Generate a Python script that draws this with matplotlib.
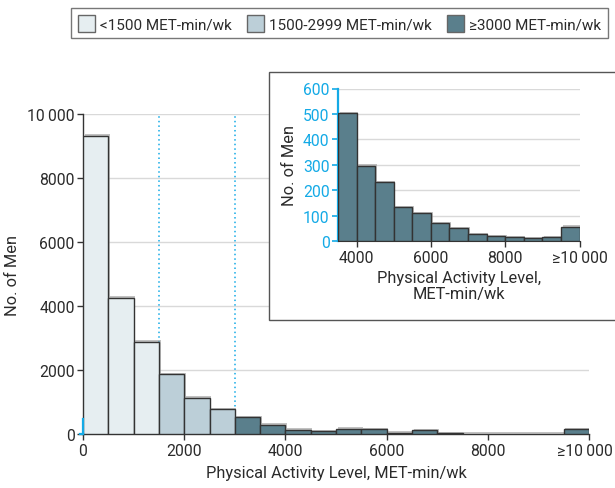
import matplotlib
matplotlib.use("Agg")
import matplotlib.pyplot as plt
import matplotlib.patches as mpatches
import matplotlib.patheffects as pe
import matplotlib.transforms as mtransforms
import numpy as np

plt.rcParams['font.family'] = ['Roboto', 'DejaVu Sans']

# ---- data ----
bin_edges_main = [0, 500, 1000, 1500, 2000, 2500, 3000, 3500, 4000, 4500, 5000,
                  5500, 6000, 6500, 7000, 7500, 8000, 8500, 9000, 9500, 10000]
counts_main = [9320, 4260, 2900, 1875, 1140, 785, 534, 290, 136, 94, 168,
               157, 52, 126, 31, 20, 20, 20, 5, 157]

bin_edges_inset = [3500, 4000, 4500, 5000, 5500, 6000, 6500, 7000, 7500, 8000,
                   8500, 9000, 9500, 10000]
counts_inset = [503, 297, 231, 134, 110, 70, 51, 28, 20, 16, 12, 16, 58]

legend_labels = ['<1500 MET-min/wk', '1500-2999 MET-min/wk', '≥3000 MET-min/wk']
x_ticks_main = [0, 2000, 4000, 6000, 8000, 10000]
x_ticklabels_main = ['0', '2000', '4000', '6000', '8000', '≥10\u2009000']
y_ticks_main = [0, 2000, 4000, 6000, 8000, 10000]
y_ticklabels_main = ['0', '2000', '4000', '6000', '8000', '10\u2009000']
x_ticks_inset = [4000, 6000, 8000, 10000]
x_ticklabels_inset = ['4000', '6000', '8000', '≥10\u2009000']
y_ticks_inset = [0, 100, 200, 300, 400, 500, 600]
cut_points = [1500, 3000]

# ---- style ----
c_low = '#e6eef1'
c_mid = '#bccfd8'
c_high = '#5a7f8c'
edge = '#333333'
blue = '#14aae6'
grid_c = '#d9d9d9'
text_c = '#2b2b2b'
fs = 11.3
fs_lab = 11.8

def color_for(left):
    if left < 1500:
        return c_low
    if left < 3000:
        return c_mid
    return c_high

shadow = [pe.SimplePatchShadow(offset=(1.2, 1.2), shadow_rgbFace='#999999', alpha=0.6), pe.Normal()]

fig = plt.figure(figsize=(6.15, 4.89), dpi=100)

# main axes
ax = fig.add_axes([83/615, 1 - 435.3/489, (589 - 83)/615, (435.3 - 115.3)/489])
lefts = np.array(bin_edges_main[:-1])
widths = np.diff(bin_edges_main)
cols = [color_for(l) for l in lefts]
bars = ax.bar(lefts, counts_main, width=widths, align='edge', color=cols,
              edgecolor=edge, linewidth=1.0, zorder=3)
for b in bars:
    b.set_path_effects(shadow)
for cp in cut_points:
    ax.plot([cp, cp], [0, 10000], linestyle=(0, (1, 2)), color=blue, lw=1.1, zorder=1)
ax.set_xlim(0, 10000)
ax.set_ylim(0, 10000)
ax.set_yticks(y_ticks_main)
ax.set_yticklabels(y_ticklabels_main)
ax.set_xticks(x_ticks_main)
ax.set_xticklabels(x_ticklabels_main)
ax.yaxis.grid(True, color=grid_c, lw=1.0, zorder=0)
ax.set_axisbelow(True)
for s in ['top', 'right']:
    ax.spines[s].set_visible(False)
for s in ['left', 'bottom']:
    ax.spines[s].set_color(edge)
    ax.spines[s].set_linewidth(1.0)
ax.tick_params(axis='both', colors=edge, labelcolor=text_c, labelsize=fs, length=4, width=1.0, pad=2)
ax.set_ylabel('No. of Men', fontsize=fs_lab, color=text_c, labelpad=5)
ax.set_xlabel('Physical Activity Level, MET-min/wk', fontsize=fs_lab, color=text_c, labelpad=5)
ax.plot([0, 0], [0, 480], color=blue, lw=1.6, zorder=5, clip_on=False)
ax.plot([-60, 0], [0, 0], color=blue, lw=1.6, zorder=5, clip_on=False)
# nudge last x tick label so it stays inside the figure
last = ax.get_xticklabels()[-1]
last.set_transform(last.get_transform() + mtransforms.ScaledTranslation(-4/100, 0, fig.dpi_scale_trans))

# inset frame
frame = mpatches.Rectangle((269/615, 1 - 321/489), 1.0, (321 - 73)/489,
                           transform=fig.transFigure, facecolor='white',
                           edgecolor='#555555', lw=1.0, zorder=2, clip_on=False)
fig.patches.append(frame)

# inset axes
axi = fig.add_axes([338/615, 1 - 242.3/489, (579.5 - 338)/615, (242.3 - 89.5)/489], zorder=5)
ilefts = np.array(bin_edges_inset[:-1])
iw = np.diff(bin_edges_inset)
ibars = axi.bar(ilefts, counts_inset, width=iw, align='edge', color=c_high,
                edgecolor=edge, linewidth=1.0, zorder=3)
for b in ibars:
    b.set_path_effects(shadow)
axi.set_xlim(3500, 10000)
axi.set_ylim(0, 600)
axi.set_yticks(y_ticks_inset)
axi.set_xticks(x_ticks_inset)
axi.set_xticklabels(x_ticklabels_inset)
axi.yaxis.grid(True, color=grid_c, lw=1.0, zorder=0)
axi.set_axisbelow(True)
axi.patch.set_alpha(0)
for s in ['top', 'right']:
    axi.spines[s].set_visible(False)
axi.spines['left'].set_color(blue)
axi.spines['left'].set_linewidth(1.6)
axi.spines['bottom'].set_color(edge)
axi.tick_params(axis='y', colors=blue, labelcolor=blue, labelsize=fs, length=4, width=1.2, pad=2)
axi.tick_params(axis='x', colors=edge, labelcolor=text_c, labelsize=fs, length=4, width=1.0, pad=2)
axi.set_ylabel('No. of Men', fontsize=fs_lab, color=text_c, labelpad=4)
axi.set_xlabel('Physical Activity Level,\nMET-min/wk', fontsize=fs_lab, color=text_c, labelpad=4,
               linespacing=1.1)

# legend
handles = [mpatches.Patch(facecolor=c, edgecolor='#666666', lw=1.0) for c in (c_low, c_mid, c_high)]
leg = fig.legend(handles, legend_labels, loc='upper left',
                 bbox_to_anchor=(71/615, 1 - 9/489), ncol=3, frameon=True,
                 fancybox=False, edgecolor='#555555', fontsize=11.0,
                 handlelength=1.1, handleheight=1.3, handletextpad=0.35,
                 columnspacing=1.0, borderpad=0.45, borderaxespad=0, labelcolor=text_c)
leg.get_frame().set_linewidth(1.0)

fig.savefig('out.png', dpi=100)
